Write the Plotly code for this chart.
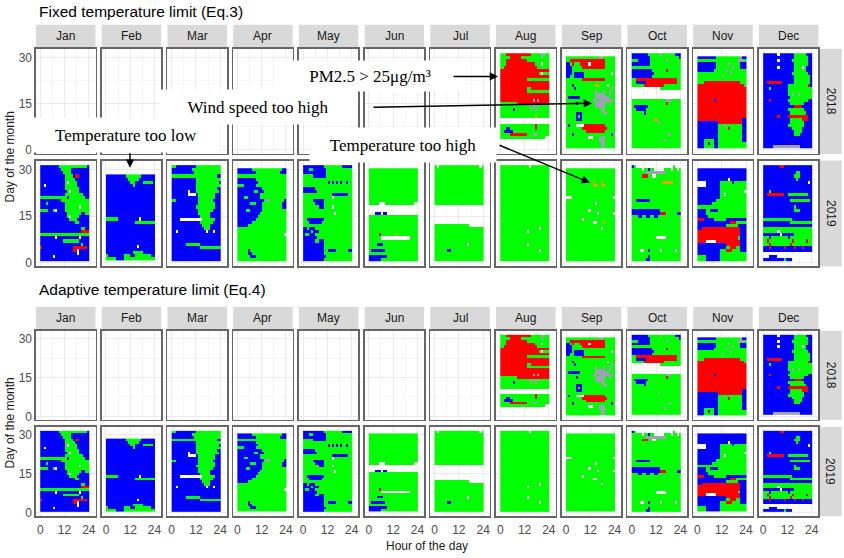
import re
import plotly.graph_objects as go

W, H = 844, 558

MONTHS = ["Jan", "Feb", "Mar", "Apr", "May", "Jun", "Jul", "Aug", "Sep", "Oct", "Nov", "Dec"]
YEARS = [2018, 2019]
HOURS = list(range(24))
STATUS_CODES = ["G", "B", "R", "P", "O"]
STATUS_COLORS = ["#00FF00", "#0000FF", "#FF0000", "#A0A0B8", "#E3A21A"]
HOUR_TICKS = [0, 12, 24]
DAY_TICKS = [0, 15, 30]
PANEL_TITLES = ["Fixed temperature limit (Eq.3)", "Adaptive temperature limit (Eq.4)"]
# adaptive limit: "temperature too high" hours become acceptable
ADAPTIVE_RECODE = {"O": "G"}

# Run-length rows, one per day, from the last day of the month (top) down to day 1.
# G ok, B too cold, R PM2.5 too high, P wind too high, O too hot, . no data
FIX_2018_AUG = ["3G 12R 5G 2P 2G", "5G 5R 10G 1P 3G", "3G 10R 11G", "3G 14R 3G 1. 3G", "2G 16R 6G",
                "24R", "19R 1G 1. 3G", "24R", "13R 11G", "24R", "24R", "13R 2G 9R", "13R 11G", "24R",
                "24R", "16R 1P 1R 1P 5R", "8G 16R", "14G 1P 1G 1P 1G 1P 5G", "6G 1B 8G 1P 1G 1P 6G",
                "24G", "17G 1O 6G", "24.", "24.", "17G 1R 6G", "3G 2B 12G 1R 6G", "2G 4B 18G",
                "5G 8R 3G 2P 6G", "22G 2.", "24.", "24.", "24."]
FIX_2018_SEP = ["16G 2P 6G", "2G 17R 5G", "2B 1G 1R 3G 4R 1. 7R 5G", "3B 5G 11R 5G", "3B 21G",
                "3B 1G 5B 13G 1. 1G", "2B 2G 5B 15G", "8G 11R 5G", "24G", "3G 1B 10G 2O 4G 1. 3G",
                "4G 1B 17G 1P 1G", "14G 1P 3G 1P 2G 1P 2G", "14G 5P 2G 1P 2G", "1G 6B 7G 7P 3G",
                "13G 2P 1G 7P 1G", "5G 1B 8G 5P 2G 1P 2G", "14G 5P 5G", "17G 2P 5G", "5G 3B 10G 2P 4G",
                "5G 1B 1G 1B 16G", "5G 3B 16G", "24G", "1G 1B 3G 4. 10R 5G", "8G 12R 4G", "10G 9R 5G",
                "3G 1B 18G 1B 1G", "11G 2. 3G 3P 5G", "16G 3P 5G", "17G 2P 5G", "17G 2P 5G"]
FIX_2018_OCT = ["8B 6G 1P 6G 3B", "9B 14G 1B", "3G 6B 8G 1P 6G", "9B 15G", "24G", "10B 7G 1R 6G",
                "11B 13G", "10B 14G", "2G 20R 2G", "2G 5B 15R 2G", "6G 10R 8G", "14. 10G", "24.", "24.",
                "24.", "17G 2P 5G", "17G 1R 6G", "1G 7B 16G", "2G 5B 17G", "6G 1B 17G", "24G",
                "11G 2O 11G", "13G 1P 10G", "24G", "24G", "24G", "18G 1P 5G", "24G", "16G 1P 7G",
                "24G", "24G"]
FIX_2018_NOV = ["9B 12G 1P 2B", "20G 3P 1G", "9B 6G 1P 5G 3B", "9B 8G 1P 3G 3B", "8B 6G 1P 9G",
                "16G 1P 7G", "12G 1P 11G", "24G", "3G 18R 3G", "23R 1G", "24R", "24R", "24R", "24R",
                "8R 1B 15R", "24R", "24R", "24R", "24R", "24R", "22R 2B", "10B 12R 2B",
                "10B 3G 1P 8G 2B", "10B 5G 1R 6G 2B", "10B 12G 2B", "10B 12G 2B", "10B 12G 2B",
                "3B 5G 2B 12G 2B", "3B 2G 1B 2G 2B 14G", "3B 5G 2B 14G"]
FIX_2018_DEC = ["7B 1. 7B 6G 3B", "15B 7G 2B", "7B 1. 6B 8G 2B", "15B 7G 2B", "7B 1. 7B 4G 1. 1G 3B",
                "15B 6G 3B", "14B 8G 2B", "15B 8G 1B", "15B 8G 1B", "2B 7R 6B 8G 1B", "12B 10G 1R 1B",
                "3B 1G 8B 12G", "12B 12G", "12B 2G 1P 2G 1P 6G", "13B 11G", "3B 1R 8B 10G 2B",
                "13B 7G 4B", "15B 4R 5B", "12B 8G 4B", "13B 8G 3B", "7B 1R 4B 10R 2B", "13B 6G 3R 2B",
                "13B 7G 4B", "12B 8G 4B", "14B 5G 5B", "15B 4G 5B", "15B 3G 6B", "24B", "24B", "24B",
                "5B 13P 6B"]

FIX_2019_JAN = ["9B 14G 1B", "10B 5G 9B", "11B 4G 9B", "12B 4G 1B 2R 5B", "12B 5G 7B", "12B 1G 1. 4G 6B",
                "2B 1. 9B 6G 6B", "12B 7G 5B", "13B 1G 1. 4G 5B", "12B 9G 3B", "13G 1B 8G 2B", "10B 14G",
                "3B 1G 8B 12G", "12B 7G 1. 4G", "4G 2B 1G 1. 4B 12G", "13B 7G 2B 2G", "13B 1G 1. 4G 5B",
                "14B 4G 6B", "17B 2G 5B", "24B", "20B 2G 2B", "20B 4R", "24G", "7B 1. 11B 1. 4B",
                "11B 8G 5B", "20B 1G 3B", "1R 15B 7R 1B", "16B 2R 1. 5B", "18B 1. 5B", "6B 1. 17B", "24B"]
FIX_2019_FEB = ["10B 7G 7B", "11B 5G 8B", "12B 2G 4B 5G 1B", "13B 1G 10B", "24B", "24B", "24B", "24B",
                "24B", "24B", "24B", "24B", "24B", "24B", "6G 10B 1. 7B", "14B 10G", "24B", "24B", "24B",
                "24B", "24B", "24B", "24B", "15B 1. 8B", "24B", "13B 5G 6B", "1G 8B 3G 2B 8G 2B",
                "5G 4B 15G"]
FIX_2019_MAR = ["2G 10B 12G", "10B 14G", "11B 13G", "22G 2B", "12B 12G", "12B 11G 1B", "12B 12G",
                "12B 10G 2B", "8B 1. 3B 11G 1B", "8B 4. 1B 8G 3B", "13B 8G 3B", "2G 11B 7G 4B",
                "13B 8G 3B", "12B 9G 3B", "13B 7G 4B", "13B 6G 5B", "14B 5G 5B", "4B 11. 6G 3B",
                "14B 6G 4B", "15B 4G 5B", "16B 3G 5B", "2B 1. 14B 1. 2B 1. 3B", "24B", "24B", "24B",
                "7B 7G 10B", "14B 10G", "24B", "24B", "24B", "24B"]
FIX_2019_APR = ["7B 15G 2B", "9B 12G 3B", "24G", "9B 15G", "10B 14G", "3G 6B 15G", "12B 12G",
                "8B 2G 3B 11G", "11B 13G", "3B 2G 6B 13G", "13B 1G 2P 7G 1B", "6B 3G 3B 10G 2B",
                "12B 10G 2B", "4B 2G 6B 12G", "11B 13G", "10B 14G", "9B 15G", "7B 17G", "5B 19G", "24G",
                "24G", "23G 1.", "24G", "24G", "24G", "24G", "5G 1B 18G", "5G 2B 17G", "6G 3B 15G", "24G"]
FIX_2019_MAY = ["10B 9G 5B", "3B 2G 6B 13G", "11B 13G", "5G 6B 13G", "24G",
                "12G 1B 1G 1B 1G 1B 1G 1B 2G 1B 2G", "24G", "6B 18G", "7B 17G", "14G 8B 2G", "14G 1. 9G",
                "5G 5B 14G", "6G 4B 14G", "8G 2B 4G 1. 9G", "24G", "15G 1. 8G", "24G", "2G 8B 14G",
                "3G 6B 15G", "24G", "2B 1G 3B 18G", "4B 1G 3B 16G", "1B 2G 3B 18G", "7B 17G",
                "6B 2G 2B 14G", "10B 14G", "10B 14G", "10B 2G 4B 6G 2B", "10B 14G", "11B 13G", "10B 14G"]
FIX_2019_JUN = ["24G", "24G", "24G", "24G", "24G", "24G", "24G", "24G", "24G", "24G", "24G",
                "5G 3. 14G 2.", "24.", "24.", "3. 3B 1. 2B 15.", "24G", "24G", "24G", "24G", "24G", "24G",
                "5G 1R 7G 1O 10G", "6G 14. 4G", "24G", "4G 3B 17G", "24G", "1G 7B 16G", "24G", "9B 15G",
                "6B 18G"]
FIX_2019_JUL = ["1G 1. 20G 1. 1G", "24G", "24G", "24G", "24G", "24G", "24G", "24G", "24G", "24G", "24G",
                "24G", "24G", "24.", "24.", "24.", "24.", "24.", "24.", "17G 7.", "24G", "24G", "24G",
                "24G", "24G", "16G 1. 7G", "24G", "6G 2B 16G", "24G", "24G", "24G"]
FIX_2019_AUG = ["14G 1. 9G", "24G", "24G", "24G", "24G", "24G", "24G", "24G", "24G", "24G", "24G",
                "24G", "24G", "24G", "24G", "24G", "24G", "24G", "24G", "24G", "19G 1. 4G", "13G 1. 10G",
                "24G", "24G", "24G", "13G 1. 10G", "24G", "19G 1. 4G", "24G", "24G", "24G"]
FIX_2019_SEP = ["24G", "24G", "24G", "24G", "13G 1O 3G 1O 6G", "13G 2O 2G 2O 5G", "24G", "24G", "24G",
                "3. 20G 1.", "24G", "14G 1. 9G", "24G", "11G 1. 12G", "15G 1. 7G 1.", "24G", "8G 1. 15G",
                "13G 2. 3G 1O 5G", "24G", "17G 1. 6G", "24G", "24G", "24G", "24G", "24G", "24G", "24G",
                "24G", "24G", "24G"]
FIX_2019_OCT = ["1B 1G 18. 1G 3.", "5G 1. 2G 1B 2G 5. 3G 1. 2G 1. 1G", "7G 10P 7G", "5G 3R 2G 2. 12G",
                "24G", "15G 5O 4G", "24G", "24G", "24G", "24G", "24G", "2G 7B 15G", "24G", "24G",
                "14B 10G", "14B 3R 5G 2B", "3G 2B 2G 2B 2G 2B 11G", "24G", "24G", "24G", "24G", "24G",
                "24G", "12G 5. 7G", "24G", "24G", "24G", "4G 2. 2G 1B 5G 1. 6G 1. 2G", "24G",
                "8G 1B 15G", "7G 2B 15G"]
FIX_2019_NOV = ["24B", "24B", "24B", "15B 1. 8B", "4. 7B 6G 1B 6G", "4. 7B 13G", "11B 13G",
                "11B 12G 1.", "11B 2G 1. 10G", "11B 13G", "9B 15G", "7B 17G", "24G", "4B 2G 4B 14G",
                "4B 20G", "5B 19G", "3R 5B 6G 10B", "16B 3R 5G", "14B 6G 4B", "2B 19R 3B", "21R 3B",
                "21R 3B", "20R 1G 3B", "4R 5. 12R 3B", "14B 7R 3B", "14B 2G 3R 2G 3B",
                "11B 3G 3R 4G 3B", "11B 13G", "4G 7B 13G", "4G 7B 13G"]
FIX_2019_DEC = ["8B 2R 14B", "24B", "16B 2G 6B", "15B 3G 6B", "16B 1G 7B", "22B 1. 1B", "24B", "24B",
                "3B 1G 20B", "2B 8R 2B 10G 2B", "24B", "13B 10G 1B", "24B", "15B 1G 8B", "15B 3G 6B",
                "24B", "24B", "14G 10B", "13B 11G", "24B", "24G", "7G 1. 16G", "8B 1. 6B 9G",
                "3G 1B 8G 1B 11G", "2G 1R 11G 1R 6G 1R 2G", "3G 1R 9G 1R 10G",
                "3B 1R 6B 1R 4B 1R 3B 1R 4B", "24B", "24.", "3. 4B 17.", "10B 1G 3B 10."]

FIXED = {
    (2018, "Aug"): FIX_2018_AUG, (2018, "Sep"): FIX_2018_SEP, (2018, "Oct"): FIX_2018_OCT,
    (2018, "Nov"): FIX_2018_NOV, (2018, "Dec"): FIX_2018_DEC,
    (2019, "Jan"): FIX_2019_JAN, (2019, "Feb"): FIX_2019_FEB, (2019, "Mar"): FIX_2019_MAR,
    (2019, "Apr"): FIX_2019_APR, (2019, "May"): FIX_2019_MAY, (2019, "Jun"): FIX_2019_JUN,
    (2019, "Jul"): FIX_2019_JUL, (2019, "Aug"): FIX_2019_AUG, (2019, "Sep"): FIX_2019_SEP,
    (2019, "Oct"): FIX_2019_OCT, (2019, "Nov"): FIX_2019_NOV, (2019, "Dec"): FIX_2019_DEC,
}


def decode(row, recode=None):
    cells = []
    for n, c in re.findall(r"(\d+)([A-Z.])", row):
        if recode and c in recode:
            c = recode[c]
        cells += [c] * int(n)
    cells = (cells + ["."] * 24)[:24]
    return [STATUS_CODES.index(c) if c in STATUS_CODES else None for c in cells]


# ---------------- layout geometry (pixels) ----------------
COL_LEFT0, COL_PITCH, COL_W = 36.0, 65.72, 59.5
ROW_PX = {(0, 0): (49.0, 155.0), (0, 1): (161.7, 268.3), (1, 0): (333.3, 422.7), (1, 1): (430.0, 520.0)}
STRIP_PX = {0: (25.0, 47.3), 1: (309.3, 331.7)}
RSTRIP_X = (819.3, 841.7)


def fx(px):
    return px / W


def fy(py):
    return 1 - py / H


n = len(STATUS_COLORS)
colorscale = []
for i, c in enumerate(STATUS_COLORS):
    colorscale += [[i / n, c], [(i + 1) / n, c]]

fig = go.Figure()
layout_axes = {}
shapes = []
annotations = []
GRID = "#ebebeb"
MINOR = "#f4f4f4"
LINE = "#666666"
TICKFONT = dict(family="Liberation Sans, Arial, sans-serif", size=12, color="#4d4d4d")

k = 0
for b in range(2):
    for r, year in enumerate(YEARS):
        y0, y1 = ROW_PX[(b, r)]
        for c, month in enumerate(MONTHS):
            k += 1
            xn = "x" if k == 1 else f"x{k}"
            yn = "y" if k == 1 else f"y{k}"
            xl = "xaxis" if k == 1 else f"xaxis{k}"
            yl = "yaxis" if k == 1 else f"yaxis{k}"
            left = COL_LEFT0 + c * COL_PITCH
            layout_axes[xl] = dict(
                domain=[fx(left), fx(left + COL_W)], anchor=yn, range=[-2.1, 27.3],
                tickvals=HOUR_TICKS, showticklabels=(b == 1 and r == 1), ticks="",
                ticklabelstandoff=2,
                tickfont=TICKFONT, showgrid=True, gridcolor=GRID, gridwidth=1,
                minor=dict(tickvals=[6, 18], showgrid=True, gridcolor=MINOR, gridwidth=0.8, ticks=""),
                zeroline=False, showline=True, mirror=True, linecolor=LINE, linewidth=1.6,
                fixedrange=True)
            layout_axes[yl] = dict(
                domain=[fy(y1), fy(y0)], anchor=xn, range=[-1.3, 33.0],
                tickvals=DAY_TICKS, showticklabels=(c == 0), ticks="",
                tickfont=TICKFONT, showgrid=True, gridcolor=GRID, gridwidth=1,
                minor=dict(tickvals=[7.5, 22.5], showgrid=True, gridcolor=MINOR, gridwidth=0.8, ticks=""),
                zeroline=False, showline=True, mirror=True, linecolor=LINE, linewidth=1.6,
                fixedrange=True)
            rows = FIXED.get((year, month))
            if rows is None:
                fig.add_trace(go.Scatter(x=[None], y=[None], xaxis=xn, yaxis=yn,
                                         showlegend=False, hoverinfo="skip"))
                continue
            recode = ADAPTIVE_RECODE if b == 1 else None
            z = [decode(rw, recode) for rw in reversed(rows)]
            fig.add_trace(go.Heatmap(
                z=z, x0=0.5, dx=1, y0=1, dy=1, xaxis=xn, yaxis=yn,
                colorscale=colorscale, zmin=-0.5, zmax=n - 0.5, showscale=False,
                hoverinfo="skip", xgap=0, ygap=0))

# strips
STRIP_FONT = dict(family="Liberation Sans, Arial, sans-serif", size=12, color="#1a1a1a")
for b in range(2):
    s0, s1 = STRIP_PX[b]
    for c, month in enumerate(MONTHS):
        left = COL_LEFT0 + c * COL_PITCH
        shapes.append(dict(type="rect", xref="paper", yref="paper",
                           x0=fx(left), x1=fx(left + COL_W), y0=fy(s1), y1=fy(s0),
                           fillcolor="#d9d9d9", line=dict(width=0), layer="below"))
        annotations.append(dict(text=month, x=fx(left + COL_W / 2), y=fy((s0 + s1) / 2),
                                xref="paper", yref="paper", showarrow=False, font=STRIP_FONT,
                                xanchor="center", yanchor="middle"))
    for r, year in enumerate(YEARS):
        y0, y1 = ROW_PX[(b, r)]
        shapes.append(dict(type="rect", xref="paper", yref="paper",
                           x0=fx(RSTRIP_X[0]), x1=fx(RSTRIP_X[1]), y0=fy(y1), y1=fy(y0),
                           fillcolor="#d9d9d9", line=dict(width=0), layer="below"))
        annotations.append(dict(text=str(year), x=fx(sum(RSTRIP_X) / 2), y=fy((y0 + y1) / 2),
                                xref="paper", yref="paper", showarrow=False, font=STRIP_FONT,
                                textangle=90, xanchor="center", yanchor="middle"))

# titles and axis titles
TITLE_FONT = dict(family="Liberation Sans, Arial, sans-serif", size=15.5, color="#000000")
AX_FONT = dict(family="Liberation Sans, Arial, sans-serif", size=12, color="#1a1a1a")
for b, (title, ty) in enumerate(zip(PANEL_TITLES, [11.5, 292.0])):
    annotations.append(dict(text=title, x=fx(37), y=fy(ty), xref="paper", yref="paper",
                            showarrow=False, xanchor="left", yanchor="middle", font=TITLE_FONT))
    ya, yb = ROW_PX[(b, 0)][0], ROW_PX[(b, 1)][1]
    annotations.append(dict(text="Day of the month", x=fx(10), y=fy((ya + yb) / 2), xref="paper",
                            yref="paper", showarrow=False, textangle=-90, font=AX_FONT,
                            xanchor="center", yanchor="middle"))
annotations.append(dict(text="Hour of the day", x=fx(427), y=fy(549.5), xref="paper", yref="paper",
                        showarrow=False, font=AX_FONT, xanchor="center", yanchor="middle"))

# callouts: text, centre x, centre y, box width, box height (pixels)
CALL_FONT = dict(family="Liberation Serif, Times New Roman, serif", size=17, color="#000000")
CALLOUTS = [("PM2.5 > 25μg/m³", 370, 76.5, 186, 30), ("Wind speed too high", 258, 108, 196, 34),
            ("Temperature too low", 126, 136, 188, 34), ("Temperature too high", 403, 146, 186, 34)]
for text, cx, cy, bw, bh in CALLOUTS:
    annotations.append(dict(text=text, x=fx(cx), y=fy(cy), xref="paper", yref="paper",
                            showarrow=False, font=CALL_FONT, bgcolor="#ffffff", borderpad=0,
                            width=bw, height=bh, align="center", valign="middle",
                            xanchor="center", yanchor="middle"))
ARROWS = [(498, 77, -46, 0), (592, 104, -220, 4), (130, 169, 0, -16), (590, 184, -92, -38)]
for hx, hy, ax, ay in ARROWS:
    annotations.append(dict(text="", x=fx(hx), y=fy(hy), xref="paper", yref="paper",
                            showarrow=True, ax=ax, ay=ay, arrowhead=2, arrowsize=1.1,
                            arrowwidth=1.5, arrowcolor="#000000"))

fig.update_layout(
    width=W, height=H, margin=dict(l=0, r=0, t=0, b=0),
    paper_bgcolor="#ffffff", plot_bgcolor="#ffffff", showlegend=False,
    shapes=shapes, annotations=annotations, **layout_axes)

fig.write_html("out.html", config={"displayModeBar": False, "staticPlot": True},
               post_script="document.body.style.margin='0px';document.body.style.overflow='hidden';")
